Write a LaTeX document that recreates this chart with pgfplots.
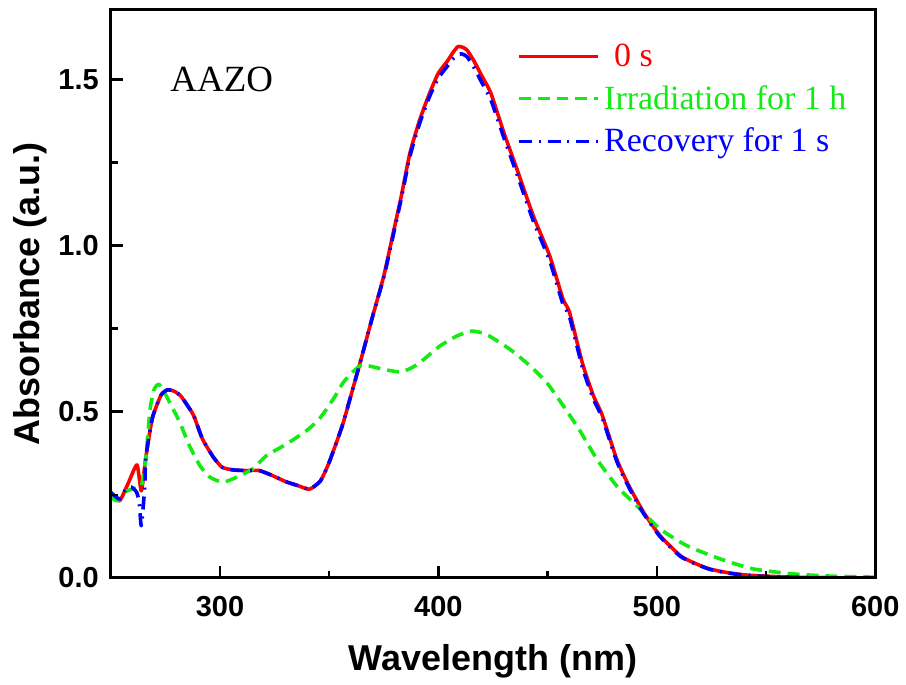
\documentclass[border=0pt]{standalone}
\usepackage{fontspec}
\setmainfont{Liberation Serif}
\setsansfont{Liberation Sans}
\usepackage{pgfplots}
\pgfplotsset{compat=1.18}
\definecolor{curvered}{RGB}{255,0,0}
\definecolor{curvegreen}{RGB}{20,235,20}
\definecolor{curveblue}{RGB}{0,0,255}

\begin{document}
\begin{tikzpicture}
\begin{axis}[
  scale only axis,
  width=383pt, height=284.5pt,
  xmin=250, xmax=600,
  ymin=0, ymax=1.71,
  axis on top,
  xtick={300,400,500,600},
  ytick={0,0.5,1.0,1.5},
  minor xtick={350,450,550},
  minor ytick={0.25,0.75,1.25},
  axis line style={line width=1.5pt},
  xtick pos=bottom, ytick pos=left,
  tick align=inside,
  major tick length=6pt, minor tick length=3.5pt,
  major tick style={black, line width=1.3pt},
  minor tick style={black, line width=1.3pt},
  xlabel={Wavelength (nm)},
  ylabel={Absorbance (a.u.)},
  tick label style={font=\fontsize{14.5}{16}\sffamily\bfseries},
  /pgf/number format/assume math mode=true,
  yticklabel={\pgfmathprintnumber[fixed, fixed zerofill, precision=1]{\tick}},
  y tick label style={xshift=-2.5pt},
  x tick label style={yshift=-5.5pt},
  label style={font=\fontsize{18}{20}\sffamily\bfseries},
  xlabel style={yshift=-7pt},
  ylabel style={yshift=-1pt},
  legend style={draw=none, fill=none, at={(rel axis cs:0.528,0.952)}, anchor=north west,
    font=\fontsize{17}{19}\selectfont, row sep=4pt, inner sep=1pt},
  legend cell align=left,
  legend image code/.code={\draw[#1] (0pt,0pt) -- (40pt,0pt);},
]
\addplot[curvered, line width=1.8pt, smooth, tension=0.35, line join=round] coordinates {
(250,0.252) (254,0.232) (258,0.285) (262,0.340) (264,0.262) (266,0.36) (269,0.48)
(273,0.55) (276,0.566) (279,0.562) (282,0.548) (285,0.52) (288,0.488) (292,0.418)
(297,0.363) (301,0.333) (306,0.325) (312,0.323) (318,0.323) (324,0.308) (330,0.29)
(336,0.277) (341,0.267) (346,0.292) (350,0.348) (356,0.458) (360,0.55) (365,0.668)
(370,0.79) (375,0.909) (379,1.029) (383,1.149) (387,1.28) (391.5,1.38) (396,1.46)
(400,1.52) (404,1.555) (407,1.585) (409,1.600) (411,1.598) (413,1.59) (416,1.56)
(420,1.51) (424,1.46) (430,1.34) (436,1.23) (443.5,1.089) (451,0.969) (457,0.84)
(460,0.80) (466,0.645) (471,0.548) (475,0.49) (481.6,0.358) (487,0.28) (494,0.197)
(501.5,0.127) (510.7,0.067) (517,0.045) (524,0.027) (532,0.016) (540,0.009)
(550,0.005) (562,0.002) (580,0.0) (600,0.0)
};
\addlegendentry{\textcolor{curvered}{\hspace{5pt}0 s}}
\addplot[curvegreen, line width=1.8pt, smooth, tension=0.35, dash pattern=on 6pt off 3.5pt, line join=round] coordinates {
(250,0.243) (253,0.232) (256.4,0.258) (260,0.268) (264,0.277) (266,0.358) (268,0.508)
(270,0.57) (272,0.583) (274,0.565) (277,0.528) (281.6,0.468) (286,0.398) (290.8,0.338)
(295.4,0.303) (301.4,0.288) (307.6,0.303) (315,0.328) (321.3,0.368) (330.5,0.403)
(339.6,0.443) (345,0.475) (348.8,0.508) (353,0.55) (356.4,0.588) (360,0.615)
(364,0.638) (367,0.64) (374.7,0.628) (382.4,0.62) (387,0.63) (391.5,0.648)
(400.7,0.698) (408.4,0.728) (415.2,0.743) (422,0.733) (432.8,0.688) (442,0.638)
(449.6,0.588) (457.2,0.518) (464.8,0.443) (472.5,0.358) (481.6,0.277) (492.3,0.207)
(501.5,0.147) (513.7,0.097) (529,0.057) (544,0.027) (562,0.012) (580,0.005) (600,0.002)
};
\addlegendentry{\textcolor{curvegreen}{Irradiation for 1 h}}
\addplot[curveblue, line width=1.8pt, smooth, tension=0.35, dash pattern=on 6.5pt off 3.5pt on 1pt off 3.5pt, line join=round] coordinates {
(250,0.258) (254,0.237) (257,0.268) (259.5,0.273) (261.8,0.258) (263,0.228) (264,0.157)
(265.6,0.277) (266,0.36) (269,0.48)
(273,0.55) (276,0.566) (279,0.562) (282,0.548) (285,0.52) (288,0.488) (292,0.418)
(297,0.363) (301,0.333) (306,0.325) (312,0.323) (318,0.323) (324,0.308) (330,0.29)
(336,0.277) (341,0.267) (346,0.292) (350,0.348) (356,0.458) (360,0.55) (365,0.668)
(370,0.79) (375,0.905) (379,1.022) (383,1.142) (387,1.27) (391.5,1.37) (396,1.45)
(400,1.505) (404,1.54) (407,1.565) (409,1.575) (410.6,1.578) (413,1.57) (416,1.54)
(420,1.49) (424,1.44) (430,1.325) (436,1.215) (443.5,1.074) (451,0.954) (457,0.825)
(460,0.787) (466,0.632) (471,0.538) (475,0.482) (481.6,0.352) (487,0.275) (494,0.193)
(501.5,0.124) (510.7,0.065) (517,0.044) (524,0.026) (532,0.015) (540,0.008)
(550,0.004) (562,0.002) (580,0.0) (600,0.0)
};
\addlegendentry{\textcolor{curveblue}{Recovery for 1 s}}
\node[font=\fontsize{18.5}{20}\selectfont] at (axis cs:300.8,1.5) {AAZO};
\end{axis}
\path (-55.5pt,-49pt) rectangle (397.5pt,289.5pt);
\end{tikzpicture}
\end{document}
